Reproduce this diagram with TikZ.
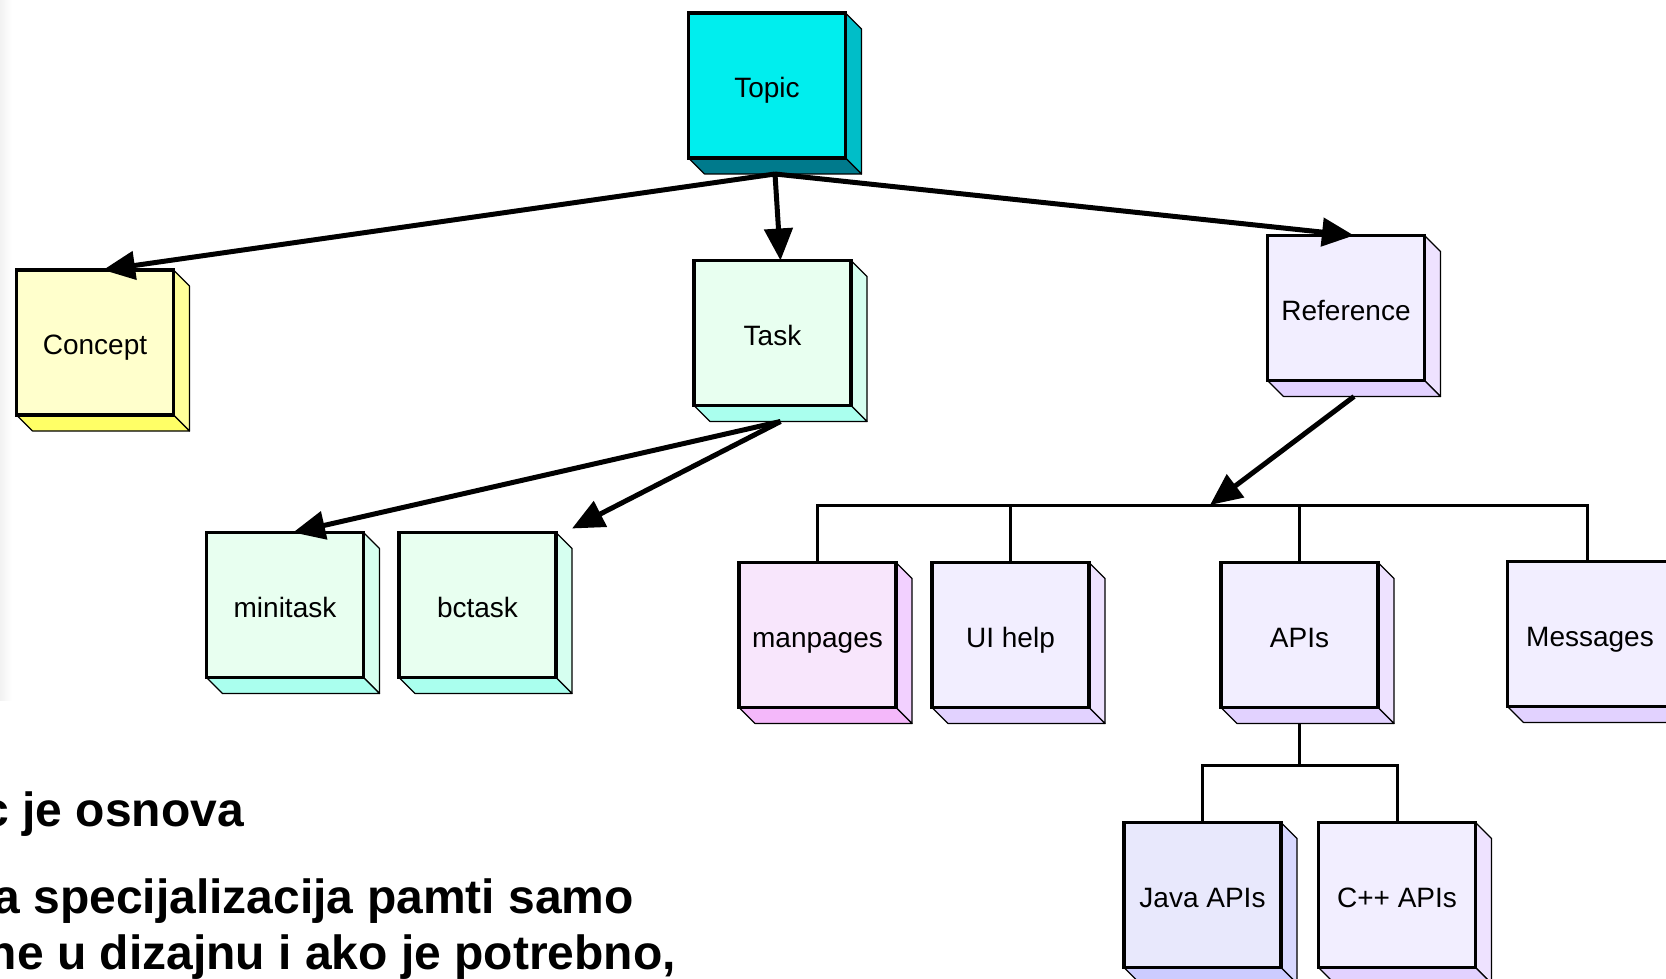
\documentclass[tikz,border=0pt]{standalone}
\usepackage{fontspec}
\setmainfont{Liberation Sans}
\usetikzlibrary{arrows.meta,calc}

\pgfdeclarelayer{paper}
\pgfdeclarelayer{faces}
\pgfsetlayers{paper,faces,main}

% face colours: front / right side / bottom
\definecolor{topicF}{RGB}{0,238,238}
\definecolor{topicS}{RGB}{0,190,200}
\definecolor{topicB}{RGB}{0,122,140}
\definecolor{conceptF}{RGB}{255,255,204}
\definecolor{conceptS}{RGB}{255,255,153}
\definecolor{conceptB}{RGB}{255,255,102}
\definecolor{taskF}{RGB}{232,255,240}
\definecolor{taskS}{RGB}{214,255,240}
\definecolor{taskB}{RGB}{170,255,238}
\definecolor{refF}{RGB}{242,238,255}
\definecolor{refS}{RGB}{238,226,255}
\definecolor{refB}{RGB}{226,210,255}
\definecolor{manF}{RGB}{248,230,252}
\definecolor{manS}{RGB}{242,208,255}
\definecolor{manB}{RGB}{244,184,250}
\definecolor{javaF}{RGB}{232,232,252}
\definecolor{javaS}{RGB}{216,216,255}
\definecolor{javaB}{RGB}{204,204,255}

\tikzset{
  cubeface/.style={draw=black, line width=3.5pt, minimum width=157pt,
    minimum height=145pt, inner sep=0pt, outer sep=0pt,
    text height=28pt, text depth=4pt,
    font=\fontsize{28}{32}\selectfont, text=black},
  sideedge/.style={draw=black, line width=1.2pt, line join=round},
  linkarrow/.style={line width=5pt, -{Triangle[length=32pt,width=28pt]}},
  treeline/.style={line width=3pt, line join=miter},
  slidetext/.style={font=\fontsize{48}{55}\selectfont\bfseries,
    anchor=base east, inner sep=0pt, text=black},
}

% #1 name, #2 centre of front face, #3 label, #4 front, #5 side, #6 bottom
\newcommand\cubenode[6]{%
  \node[cubeface, fill=#4] (#1) at (#2) {#3};
  \coordinate (#1-top) at ($(#1.north)+(8,0)$);
  \coordinate (#1-base) at ($(#1.south)+(8,16)$);
  \begin{pgfonlayer}{faces}
    \draw[sideedge, fill=#5] (#1.north east) -- ++(16,16)
      -- ($(#1.south east)+(16,16)$) -- (#1.south east) -- cycle;
    \draw[sideedge, fill=#6] (#1.south west) -- (#1.south east)
      -- ++(16,16) -- ($(#1.south west)+(16,16)$) -- cycle;
  \end{pgfonlayer}}

\begin{document}
\begin{tikzpicture}[x=1pt, y=-1pt]
  \useasboundingbox (0,0) rectangle (1666,979);
  \begin{pgfonlayer}{paper}
    \fill[white] (0,0) rectangle (1666,979);
    \shade[left color=black!5, right color=white] (0,0) rectangle (12,700);
  \end{pgfonlayer}
  \clip (0,0) rectangle (1666,979);

  % topic tree
  \cubenode{Topic}{767,85.5}{Topic}{topicF}{topicS}{topicB}
  \cubenode{Concept}{95,342.5}{Concept}{conceptF}{conceptS}{conceptB}
  \cubenode{Task}{772.5,333}{Task}{taskF}{taskS}{taskB}
  \cubenode{Reference}{1346,308}{Reference}{refF}{refS}{refB}

  \cubenode{minitask}{285,605}{minitask}{taskF}{taskS}{taskB}
  \cubenode{bctask}{477.5,605}{bctask}{taskF}{taskS}{taskB}

  \cubenode{manpages}{817.5,635}{manpages}{manF}{manS}{manB}
  \cubenode{UIhelp}{1010.5,635}{UI help}{refF}{refS}{refB}
  \cubenode{APIs}{1299.5,635}{APIs}{refF}{refS}{refB}
  \begingroup
  \tikzset{cubeface/.append style={minimum width=165pt}}
  \cubenode{Messages}{1590,634}{Messages}{refF}{refS}{refB}
  \endgroup

  \cubenode{JavaAPIs}{1202.5,895}{Java APIs}{javaF}{javaS}{javaB}
  \cubenode{CppAPIs}{1397,895}{C++ APIs}{refF}{refS}{refB}

  % specialisation arrows
  \draw[linkarrow] (Topic-base) -- (Concept-top);
  \draw[linkarrow] (Topic-base) -- (Task-top);
  \draw[linkarrow] (Topic-base) -- (Reference-top);
  \draw[linkarrow] (Task-base) -- (minitask-top);
  \coordinate (bctask-corner) at ($(bctask.north east)+(16,-4)$);
  \draw[linkarrow] (Task-base) -- (bctask-corner);

  % reference family
  \coordinate (refhub) at (1210,505);
  \draw[treeline] (manpages.north) |- (refhub) -| ($(Messages.north)+(-3,0)$);
  \draw[treeline] (UIhelp.north) -- (UIhelp.north |- refhub);
  \draw[treeline] (APIs.north) -- (APIs.north |- refhub);
  \draw[linkarrow] (Reference-base) -- (refhub);

  \coordinate (apihub) at (1299.5,765);
  \draw[treeline] ($(APIs.south)+(0,16)$) -- (apihub);
  \draw[treeline] (JavaAPIs.north) |- (apihub) -| (CppAPIs.north);

  % slide text
  \node[slidetext] (line1) at (244,826) {c je osnova};
  \node[slidetext] (line2) at (634,913) {a specijalizacija pamti samo};
  \node[slidetext] (line3) at (676,969) {ne u dizajnu i ako je potrebno,};
\end{tikzpicture}
\end{document}
